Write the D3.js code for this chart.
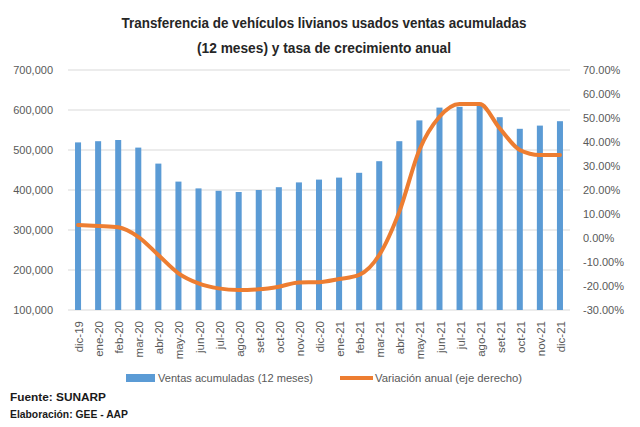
<!DOCTYPE html>
<html><head><meta charset="utf-8">
<script src="https://cdn.jsdelivr.net/npm/d3@7"></script>
<style>
body{margin:0;background:#fff;}
svg text{font-family:"Liberation Sans",Arial,sans-serif;}
</style></head>
<body><svg id="c" width="640" height="427"></svg>
<script>
const categories = ["dic-19","ene-20","feb-20","mar-20","abr-20","may-20","jun-20","jul-20","ago-20","set-20","oct-20","nov-20","dic-20","ene-21","feb-21","mar-21","abr-21","may-21","jun-21","jul-21","ago-21","set-21","oct-21","nov-21","dic-21"];
const ventas = [519000,522000,525000,506000,466000,421000,404000,398000,395000,400000,407000,419000,426000,431000,443000,472000,522000,574000,606000,608000,611000,582000,553000,561000,572000];
const variacion = [5.4,5.0,4.5,0.5,-7.1,-14.7,-18.9,-21.0,-21.7,-21.4,-20.3,-18.5,-18.4,-17.1,-15.4,-7.1,11.0,36.7,50.5,55.8,55.8,45.7,36.7,34.6,34.6];
const leftTicks = [100000,200000,300000,400000,500000,600000,700000];
const rightTicks = [-30,-20,-10,0,10,20,30,40,50,60,70];
const titleLines = ["Transferencia de vehículos livianos usados ventas acumuladas","(12 meses) y tasa de crecimiento anual"];
const legendLabels = ["Ventas acumuladas (12 meses)","Variación anual (eje derecho)"];
const notes = ["Fuente: SUNARP","Elaboración: GEE - AAP"];

const svg = d3.select("#c");
const L = 68, R = 570, T = 70, B = 310;
const x = d3.scaleBand().domain(categories).range([L,R]).paddingInner(0.7).paddingOuter(0.35);
const yL = d3.scaleLinear().domain([100000,700000]).range([B,T]);
const yR = d3.scaleLinear().domain([-30,70]).range([B,T]);
const blue = "#5B9BD5", orange = "#ED7D31", txt = "#595959";

// title
const titleW = [405, 254];
svg.append("g").selectAll("text").data(titleLines).join("text")
  .attr("x",324).attr("y",(d,i)=>28+i*25).attr("text-anchor","middle")
  .attr("font-size",15.5).attr("font-weight","bold").attr("fill","#262626")
  .attr("textLength",(d,i)=>titleW[i]).attr("lengthAdjust","spacingAndGlyphs").text(d=>d);

// gridlines
svg.append("g").selectAll("line").data(leftTicks).join("line")
  .attr("x1",L).attr("x2",R).attr("y1",d=>yL(d)).attr("y2",d=>yL(d))
  .attr("stroke","#d9d9d9").attr("stroke-width",1);

// left axis
const gl = svg.append("g").attr("transform",`translate(${L},0)`)
  .call(d3.axisLeft(yL).tickValues(leftTicks).tickFormat(d3.format(",")).tickSize(0).tickPadding(15));
gl.select(".domain").remove();
gl.selectAll("text").attr("font-size",11).attr("fill",txt).style("font-family",'"Liberation Sans",Arial,sans-serif');

// right axis
const gr = svg.append("g").attr("transform",`translate(${R},0)`)
  .call(d3.axisRight(yR).tickValues(rightTicks).tickFormat(d=>d.toFixed(2)+"%").tickSize(0).tickPadding(13));
gr.select(".domain").remove();
gr.selectAll("text").attr("font-size",11).attr("fill",txt).style("font-family",'"Liberation Sans",Arial,sans-serif');

// bars
svg.append("g").selectAll("rect").data(ventas).join("rect")
  .attr("x",(d,i)=>x(categories[i])).attr("width",x.bandwidth())
  .attr("y",d=>yL(d)).attr("height",d=>B-yL(d)).attr("fill",blue);

// line
const line = d3.line().x((d,i)=>x(categories[i])+x.bandwidth()/2).y(d=>yR(d)).curve(d3.curveMonotoneX);
svg.append("path").datum(variacion).attr("d",line).attr("fill","none")
  .attr("stroke",orange).attr("stroke-width",4).attr("stroke-linejoin","round").attr("stroke-linecap","round");

// x axis
const gx = svg.append("g").attr("transform",`translate(0,${B})`)
  .call(d3.axisBottom(x).tickSize(0).tickPadding(0));
gx.select(".domain").remove();
gx.selectAll("text").attr("font-size",11.5).attr("fill",txt)
  .attr("transform","rotate(-90)").attr("text-anchor","end").attr("dy","0.35em").attr("x",-11).attr("y",1)
  .style("font-family",'"Liberation Sans",Arial,sans-serif');

// legend
const lg = svg.append("g");
lg.append("rect").attr("x",126).attr("y",374).attr("width",29).attr("height",8).attr("fill",blue);
lg.append("text").attr("x",158).attr("y",382).attr("font-size",11.5).attr("fill",txt)
  .attr("textLength",155).attr("lengthAdjust","spacingAndGlyphs").text(legendLabels[0]);
lg.append("line").attr("x1",340).attr("x2",373).attr("y1",378).attr("y2",378).attr("stroke",orange).attr("stroke-width",4);
lg.append("text").attr("x",375).attr("y",382).attr("font-size",11.5).attr("fill",txt)
  .attr("textLength",147).attr("lengthAdjust","spacingAndGlyphs").text(legendLabels[1]);

// notes
const noteW = [96, 118];
svg.append("g").selectAll("text").data(notes).join("text")
  .attr("x",10).attr("y",(d,i)=>401+i*17).attr("font-size",11).attr("font-weight","bold").attr("fill","#1a1a1a")
  .attr("textLength",(d,i)=>noteW[i]).attr("lengthAdjust","spacingAndGlyphs").text(d=>d);
</script></body></html>
